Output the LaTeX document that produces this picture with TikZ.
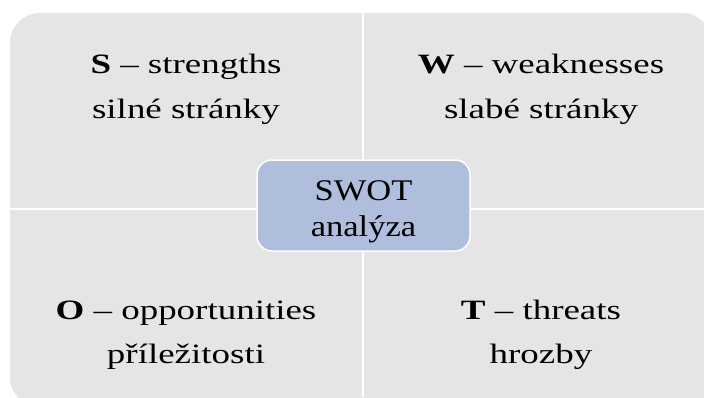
\documentclass[tikz,border=0pt]{standalone}
\usepackage{fontspec}
\setmainfont{Liberation Serif}
\newfontfamily\quadfont[FakeStretch=1.32]{Liberation Serif}
\newfontfamily\centfont[FakeStretch=1.15]{Liberation Serif}
\definecolor{quadgray}{RGB}{229,229,229}
\definecolor{swotblue}{RGB}{176,190,222}
\tikzset{
  quadtext/.style={anchor=base, inner sep=0pt, font=\quadfont\fontsize{28}{45}\selectfont, text=black},
  centtext/.style={anchor=base, inner sep=0pt, font=\centfont\fontsize{30}{36}\selectfont, text=black},
  sepline/.style={draw=white, line width=2.6pt},
  swotbox/.style={fill=swotblue, draw=white, line width=1.5pt, rounded corners=15pt}
}
\begin{document}
\begin{tikzpicture}[x=1pt,y=-1pt]
\useasboundingbox (0,0) rectangle (704,397);
\clip (0,0) rectangle (704,397);
\fill[white] (0,0) rectangle (704,397);
% background quadrants
\fill[quadgray, rounded corners=30pt] (10,13) rectangle (712,407);
\draw[sepline] (363,0) -- (363,397);
\draw[sepline] (0,209) -- (704,209);
% centre box
\path[swotbox] (257,160) rectangle (470,251);
\node[centtext] (c1) at (363.5,200) {SWOT};
\node[centtext] (c2) at (363.5,236) {analýza};
% quadrant texts
\node[quadtext] (s1) at (186,73) {\textbf{S} – strengths};
\node[quadtext] (s2) at (186,118) {silné stránky};
\node[quadtext] (w1) at (541,73) {\textbf{W} – weaknesses};
\node[quadtext] (w2) at (541,118) {slabé stránky};
\node[quadtext] (o1) at (186,319) {\textbf{O} – opportunities};
\node[quadtext] (o2) at (186,363) {příležitosti};
\node[quadtext] (t1) at (541,319) {\textbf{T} – threats};
\node[quadtext] (t2) at (541,363) {hrozby};
\end{tikzpicture}
\end{document}
